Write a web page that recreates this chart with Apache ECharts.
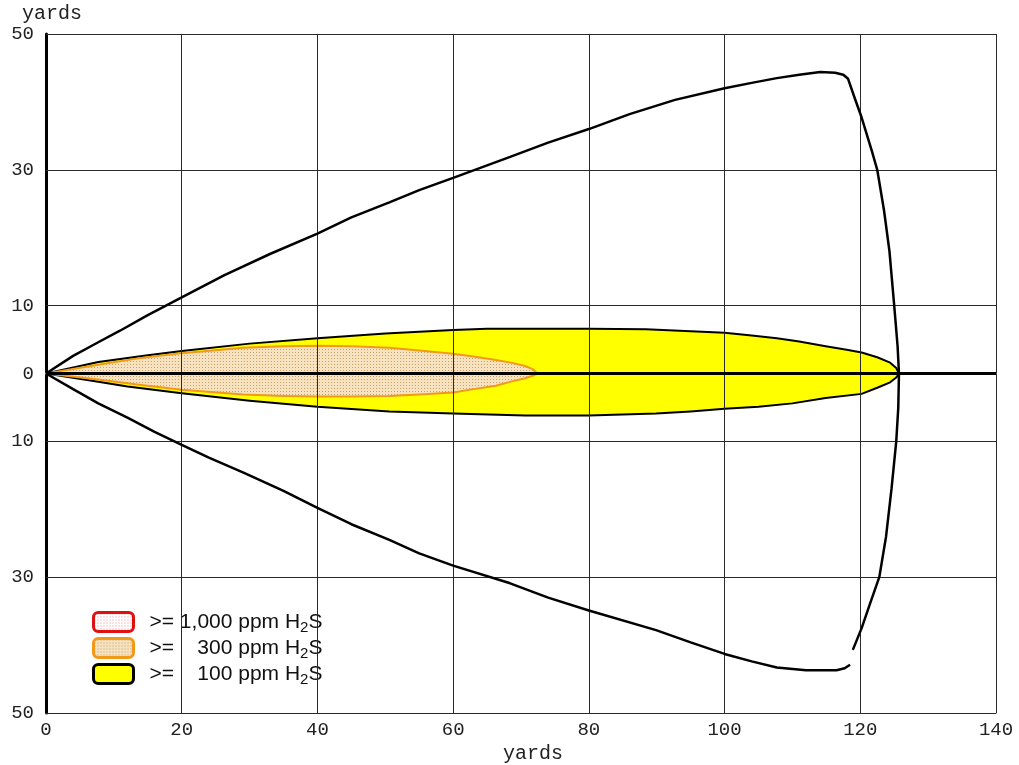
<!DOCTYPE html>
<html>
<head>
<meta charset="utf-8">
<script src="https://cdn.jsdelivr.net/npm/echarts@6/dist/echarts.min.js"></script>
<style>
  html, body { margin: 0; padding: 0; background: #fff; }
  #chart { width: 1019px; height: 765px; }
</style>
</head>
<body>
<div id="chart"></div>
<script>
// Axis ticks (yards downwind / crosswind)
const xTicks = [0, 20, 40, 60, 80, 100, 120, 140];
const yTickLabels = [50, 30, 10, 0, -10, -30, -50];

// Outer boundary of the possible plume footprint (wind shift envelope)
const envelopeUpper = [[0,0],[4,2.6],[7.7,4.6],[10.9,6.3],[15,8.6],[20,11.2],[26.3,14.5],[33,17.6],[40,20.6],[45,23.0],[50.6,25.2],[55,27.0],[60,28.8],[68.4,31.9],[74,34.0],[80,36.0],[86,38.2],[92.7,40.3],[100,42.0],[104,42.8],[107.7,43.5],[111,44.0],[114.1,44.4],[116.3,44.3],[117.5,44.0],[118.2,43.4]];
const envelopeArc = [[118.2,43.4],[119.2,40.5],[120.2,37.7],[121.7,32.8],[122.5,30.0],[123.5,24.0],[124.3,18.0],[125.0,10.0],[125.5,4.0],[125.7,0],[125.6,-5.0],[125.3,-10.0],[124.6,-17.0],[123.8,-24.0],[122.8,-30.0],[121.4,-34.0],[120.2,-37.5],[118.9,-40.7]];
const envelopeLower = [[0,0],[4,-2.3],[7.7,-4.4],[12,-6.5],[16,-8.6],[20,-10.5],[24,-12.4],[29.1,-14.6],[35,-17.3],[40,-19.8],[45,-22.2],[50.6,-24.5],[55,-26.5],[60,-28.3],[68.4,-30.9],[74,-33.0],[80,-34.9],[89.9,-37.8],[95,-39.6],[100,-41.3],[104,-42.4],[107.7,-43.3],[112,-43.7],[116.5,-43.7],[117.7,-43.4],[118.5,-42.9]];

// >= 100 ppm footprint
const plume100Upper = [[0,0],[7.7,1.7],[15,2.7],[20,3.3],[30,4.4],[40,5.2],[50,5.9],[60,6.4],[65,6.6],[80,6.6],[88.4,6.5],[100,6.0],[104,5.6],[107.7,5.2],[111,4.7],[114.9,4.0],[118,3.5],[120.2,3.1],[122.5,2.4],[124.4,1.6],[125.3,0.8],[125.7,0]];
const plume100Lower = [[125.7,0],[125.3,-0.6],[124.4,-1.3],[122.5,-2.1],[120.2,-3.0],[114.9,-3.6],[110,-4.4],[105,-4.9],[100,-5.2],[95,-5.6],[89.9,-5.9],[80,-6.2],[70.6,-6.2],[60,-5.9],[50.6,-5.6],[40,-4.9],[30,-4.0],[20,-2.9],[12,-1.9],[7.7,-1.2],[0,0]];

// >= 300 ppm footprint
const plume300Upper = [[0,0],[7.7,1.3],[14,2.3],[20,3.0],[29.1,3.8],[35,4.0],[40,4.1],[45,4.0],[50.6,3.8],[55,3.4],[60,2.9],[63,2.5],[66.3,2.0],[68.5,1.6],[70.6,1.1],[71.8,0.6],[72.4,0]];
const plume300Lower = [[72.4,0],[71.8,-0.3],[70.6,-0.7],[68.5,-1.2],[66.3,-1.8],[63,-2.3],[60,-2.8],[55,-3.1],[50.6,-3.3],[45,-3.4],[40,-3.4],[35,-3.3],[29.1,-3.1],[20,-2.4],[14,-1.7],[7.7,-0.9],[0,0]];

// Legend labels
const legendNames = ['>= 1,000 ppm H{sub|2}S', '>=    300 ppm H{sub|2}S', '>=    100 ppm H{sub|2}S'];

// Small dotted fill patterns
function dotPattern(bg, dot) {
  const c = document.createElement('canvas');
  c.width = 3; c.height = 3;
  const g = c.getContext('2d');
  g.fillStyle = bg; g.fillRect(0, 0, 3, 3);
  g.fillStyle = dot; g.fillRect(1, 1, 1, 1);
  return { image: c, repeat: 'repeat' };
}
const fill1000 = dotPattern('#ffffff', '#f08a8a');
const fill300 = dotPattern('#f6e2bf', '#c9a16c');
const fill100 = '#ffff00';

function polygonSeries(name, pts, fill, stroke, lw, z) {
  return {
    type: 'custom',
    name: name,
    z: z,
    silent: true,
    animation: false,
    data: pts,
    renderItem: function (params, api) {
      if (params.dataIndex !== 0) return null;
      const points = pts.map(function (p) { return api.coord(p); });
      return {
        type: 'polygon',
        shape: { points: points },
        style: { fill: fill, stroke: stroke, lineWidth: lw, lineJoin: 'round' }
      };
    }
  };
}

const gridLineStyle = { color: '#2a2a2a', width: 1, type: 'solid' };
const gridMarks = xTicks.filter(function (v) { return v > 0; }).map(function (v) { return { xAxis: v }; })
  .concat(yTickLabels.filter(function (v) { return v !== 0 && v !== -50; }).map(function (v) { return { yAxis: v }; }));

const monoLabel = { fontFamily: 'Liberation Mono', fontSize: 19, color: '#222' };

const chart = echarts.init(document.getElementById('chart'), null, { renderer: 'canvas' });
chart.setOption({
  backgroundColor: '#ffffff',
  animation: false,
  grid: { left: 46, right: 23, top: 34, bottom: 52, containLabel: false, outerBoundsMode: 'none' },
  xAxis: {
    type: 'value', min: 0, max: 140, interval: 20,
    name: 'yards', nameLocation: 'middle', nameGap: 24,
    nameTextStyle: { fontFamily: 'Liberation Mono', fontSize: 20, color: '#222', padding: [0, 0, 0, 24] },
    axisLine: { show: true, onZero: false, lineStyle: { color: '#2a2a2a', width: 1 } },
    axisTick: { show: false },
    splitLine: { show: false },
    axisLabel: Object.assign({ margin: 7 }, monoLabel)
  },
  yAxis: {
    type: 'value', min: -50, max: 50, interval: 10,
    name: 'yards', nameLocation: 'end', nameGap: 10,
    nameTextStyle: { fontFamily: 'Liberation Mono', fontSize: 20, color: '#222', align: 'center', padding: [0, 0, 0, 12] },
    axisLine: { show: true, onZero: false, lineStyle: { color: '#000', width: 3 } },
    axisTick: { show: false },
    splitLine: { show: false },
    axisLabel: Object.assign({
      margin: 12,
      formatter: function (v) { return yTickLabels.indexOf(v) >= 0 ? String(Math.abs(v)) : ''; }
    }, monoLabel)
  },
  legend: {
    orient: 'vertical', left: 92, top: 609, padding: 0, itemWidth: 40, itemHeight: 19, itemGap: 0,
    icon: 'roundRect', selectedMode: false,
    textStyle: {
      fontFamily: 'Liberation Sans', fontSize: 21, lineHeight: 20, color: '#111', padding: [0, 0, 0, 11],
      rich: { sub: { fontFamily: 'Liberation Sans', fontSize: 15, lineHeight: 14, padding: [11, 0, 0, 0] } }
    },
    data: [
      { name: legendNames[0], itemStyle: { color: fill1000, borderColor: '#e01010', borderWidth: 3 } },
      { name: legendNames[1], itemStyle: { color: fill300, borderColor: '#f29a18', borderWidth: 3 } },
      { name: legendNames[2], itemStyle: { color: fill100, borderColor: '#000', borderWidth: 3 } }
    ]
  },
  series: [
    polygonSeries(legendNames[0], [], fill1000, '#e01010', 2, 4),
    polygonSeries(legendNames[2], plume100Upper.concat(plume100Lower), fill100, '#000', 2, 2),
    polygonSeries(legendNames[1], plume300Upper.concat(plume300Lower), fill300, '#f29a18', 2, 3),
    {
      type: 'line', z: 5, silent: true, showSymbol: false, animation: false,
      data: envelopeLower,
      lineStyle: { color: '#000', width: 2.5 }
    },
    {
      type: 'line', z: 5, silent: true, showSymbol: false, animation: false,
      data: envelopeUpper.concat(envelopeArc.slice(1)),
      lineStyle: { color: '#000', width: 2.5 }
    },
    {
      type: 'line', z: 6, silent: true, data: [], animation: false,
      markLine: {
        silent: true, symbol: 'none', animation: false,
        label: { show: false },
        lineStyle: gridLineStyle,
        data: gridMarks
      }
    },
    {
      type: 'line', z: 7, silent: true, data: [], animation: false,
      markLine: {
        silent: true, symbol: 'none', animation: false,
        label: { show: false },
        lineStyle: { color: '#000', width: 3, type: 'solid' },
        data: [{ yAxis: 0 }]
      }
    }
  ]
});
</script>
</body>
</html>
